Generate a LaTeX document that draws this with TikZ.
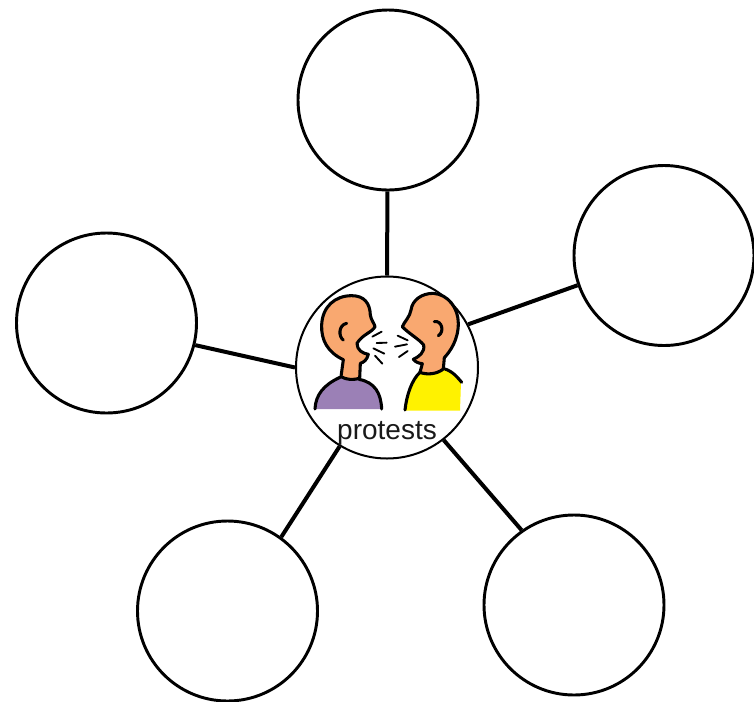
\documentclass[tikz,border=0pt]{standalone}
\usepackage{fontspec}
\setmainfont{Liberation Sans}
\usepackage{xcolor}
\usetikzlibrary{positioning}
\definecolor{skin}{HTML}{F9A870}
\definecolor{shirtpurple}{HTML}{9B80B6}
\definecolor{shirtyellow}{HTML}{FFF200}

\begin{document}
\begin{tikzpicture}[%
    x=0.75pt,
    y=-0.75pt,
    bubble/.style={%
      circle,
      inner sep=0pt,
      minimum size=135pt,
      line width=2.2pt,
      draw
    },
    hub/.style={%
      circle,
      inner sep=0pt,
      minimum size=136.5pt,
      line width=1.5pt,
      draw
    },
    spoke/.style={line width=3pt},
    outline/.style={line width=2.3pt,line join=round,line cap=round},
    spit/.style={line width=1.4pt,line cap=round}
  ]
    \useasboundingbox (0,0) rectangle (754,701);
    \node[hub] (talk) at (387,367.5) {};
    \node[bubble] (top) at (388,100) {};
    \node[bubble] (right) at (664,255.5) {};
    \node[bubble] (left) at (106.5,323) {};
    \node[bubble] (lowleft) at (227.5,611) {};
    \node[bubble] (lowright) at (574,605) {};

    \draw[spoke] (top) -- (talk.90);
    \draw[spoke] (right.199) -- (talk.28);
    \draw[spoke] (left.-14) -- (talk.180);
    \draw[spoke] (lowleft.54) -- (talk.239);
    \draw[spoke] (lowright.125) -- (talk.-52);

    \begin{scope}[shift={(285,265)},scale=1/3]
      % left man
      \fill[shirtpurple] (90,432) .. controls (92,390) and (115,360) .. (165,337)
        -- (225,345) .. controls (270,352) and (288,385) .. (290,432) -- cycle;
      \draw[outline] (90,432) .. controls (92,390) and (115,360) .. (165,337);
      \draw[outline] (222,343) .. controls (270,352) and (288,385) .. (290,432);
      \draw[outline,fill=skin] (168,335) -- (175,284)
        .. controls (128,262) and (108,225) .. (110,180)
        .. controls (112,125) and (150,92) .. (200,92)
        .. controls (238,92) and (255,115) .. (256,150)
        .. controls (258,165) and (268,175) .. (270,185)
        .. controls (262,202) and (232,208) .. (216,235)
        .. controls (216,255) and (232,265) .. (250,268)
        .. controls (246,285) and (236,292) .. (226,295)
        -- (224,340) .. controls (205,345) and (185,345) .. (168,335);
      \draw[outline] (185,175) .. controls (160,180) and (160,215) .. (175,225);
      % right man
      \fill[shirtyellow] (360,437) .. controls (365,390) and (380,345) .. (405,322)
        .. controls (430,330) and (460,325) .. (480,312)
        .. controls (505,320) and (520,340) .. (528,352) -- (525,437) -- cycle;
      \draw[outline] (360,435) .. controls (365,390) and (380,345) .. (405,322);
      \draw[outline] (480,312) .. controls (505,320) and (520,340) .. (530,352);
      \draw[outline,fill=skin] (405,322) -- (412,296)
        .. controls (400,295) and (390,290) .. (385,283)
        .. controls (402,275) and (420,262) .. (416,240)
        .. controls (402,222) and (370,205) .. (352,185)
        .. controls (358,170) and (375,155) .. (378,135)
        .. controls (382,105) and (410,85) .. (445,85)
        .. controls (490,88) and (520,130) .. (520,175)
        .. controls (520,225) and (495,260) .. (478,278)
        -- (475,312) .. controls (455,328) and (425,330) .. (405,322);
      \draw[outline] (448,170) .. controls (470,165) and (480,200) .. (460,212);
      % words
      \draw[spit] (262,215) -- (290,200);
      \draw[spit] (275,234) -- (305,233);
      \draw[spit] (265,250) -- (298,266);
      \draw[spit] (270,272) -- (292,296);
      \draw[spit] (338,212) -- (368,226);
      \draw[spit] (330,245) -- (366,238);
      \draw[spit] (342,276) -- (368,258);
    \end{scope}

    \node[inner sep=0pt,text=black!90] (label) at (387,433) {\fontsize{21}{21}\selectfont protests};
\end{tikzpicture}
\end{document}
